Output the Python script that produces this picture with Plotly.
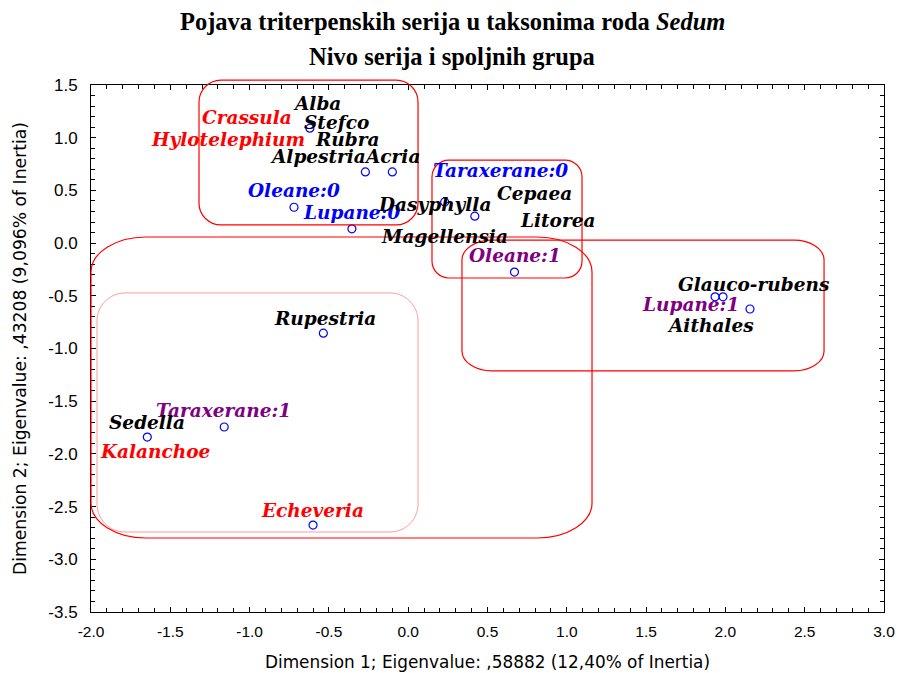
import plotly.graph_objects as go

# correspondence analysis coordinates
point_x = [-0.62, -0.27, -0.10, -0.72, -0.355, 0.23, 0.42, 0.67, 1.935, 1.985, 2.155, -0.535, -1.16, -1.645, -0.60]
point_y = [1.09, 0.675, 0.675, 0.34, 0.135, 0.39, 0.255, -0.275, -0.51, -0.51, -0.625, -0.855, -1.745, -1.84, -2.675]

# labels: text, point index, kind
label_text = ["Alba", "Crassula", "Stefco", "Hylotelephium", "Rubra", "Alpestria", "Acria",
              "Oleane:0", "Lupane:0", "Dasyphylla", "Taraxerane:0", "Magellensia",
              "Cepaea", "Litorea", "Oleane:1", "Glauco-rubens", "Lupane:1", "Aithales",
              "Rupestria", "Taraxerane:1", "Sedella", "Kalanchoe", "Echeveria"]
label_point = [0, 0, 0, 0, 0, 1, 2, 3, 4, 5, 5, 5, 6, 6, 7, 9, 8, 10, 11, 12, 13, 13, 14]
label_kind = ["serija", "rod", "serija", "rod", "serija", "serija", "serija",
              "marker0", "marker0", "serija", "marker0", "serija",
              "serija", "serija", "marker1", "serija", "marker1", "serija",
              "serija", "marker1", "serija", "rod", "rod"]

# groups drawn as rounded boxes: x0, x1, y0, y1
box_x0 = [-1.319, 0.150, -2.0, 0.339, -1.962]
box_x1 = [0.062, 1.096, 1.159, 2.622, 0.062]
box_y0 = [0.172, -0.331, -2.798, -1.213, -2.741]
box_y1 = [1.547, 0.788, 0.058, 0.029, -0.473]

x_ticks = [-2.0, -1.5, -1.0, -0.5, 0.0, 0.5, 1.0, 1.5, 2.0, 2.5, 3.0]
x_tick_labels = ["-2.0", "-1.5", "-1.0", "-0.5", "0.0", "0.5", "1.0", "1.5", "2.0", "2.5", "3.0"]
y_ticks = [-3.5, -3.0, -2.5, -2.0, -1.5, -1.0, -0.5, 0.0, 0.5, 1.0, 1.5]
y_tick_labels = ["-3.5", "-3.0", "-2.5", "-2.0", "-1.5", "-1.0", "-0.5", "0.0", "0.5", "1.0", "1.5"]

# label offsets in pixels (dx right, dy down)
label_dx = [7, -63, 27, -82, 38, -47, 0, 0, 0, -10, 56, 0, 60, 83, 1, 31, -25, -39, 2, -1, 0, 8, -1]
label_dy = [-25, -11, -6, 11, 11, -15, -15, -17, -16, 3, -31, 35, -23, 4, -17, -12, 8, 17, -15, -17, -15, 14, -15]

kind_color = {"serija": "black", "rod": "#ff0000", "marker0": "#0000ff", "marker1": "#800080"}
box_rx = [22, 17, 55, 30, 28]
box_ry = [22, 17, 35, 20, 28]
box_color = ["#ff0000", "#ff0000", "#ff0000", "#ff0000", "#ff9a9a"]

XMIN, XMAX, YMIN, YMAX = -2.0, 3.0, -3.5, 1.5
W, H = 904, 673
PW, PH = 793, 527
# page body adds 8px, so margins are trimmed by that much
L, T = 83, 77
R, B = W - L - PW, H - T - PH


def rounded_box(x0, x1, y0, y1, rx, ry):
    # paper coords so the box may run past the axes
    px0 = (x0 - XMIN) / (XMAX - XMIN)
    px1 = (x1 - XMIN) / (XMAX - XMIN)
    py0 = (y0 - YMIN) / (YMAX - YMIN)
    py1 = (y1 - YMIN) / (YMAX - YMIN)
    a = rx / PW
    b = ry / PH
    k = 0.5523
    p = f"M {px0 + a},{py1} L {px1 - a},{py1} "
    p += f"C {px1 - a + k * a},{py1} {px1},{py1 - b + k * b} {px1},{py1 - b} "
    p += f"L {px1},{py0 + b} "
    p += f"C {px1},{py0 + b - k * b} {px1 - a + k * a},{py0} {px1 - a},{py0} "
    p += f"L {px0 + a},{py0} "
    p += f"C {px0 + a - k * a},{py0} {px0},{py0 + b - k * b} {px0},{py0 + b} "
    p += f"L {px0},{py1 - b} "
    p += f"C {px0},{py1 - b + k * b} {px0 + a - k * a},{py1} {px0 + a},{py1} Z"
    return p


fig = go.Figure()
fig.add_trace(go.Scatter(x=point_x, y=point_y, mode="markers",
                         marker=dict(symbol="circle-open", size=8, color="#0000ff", line=dict(width=1.2)),
                         hoverinfo="skip", showlegend=False, cliponaxis=False))

for i in range(len(box_x0)):
    fig.add_shape(type="path", xref="paper", yref="paper",
                  path=rounded_box(box_x0[i], box_x1[i], box_y0[i], box_y1[i], box_rx[i], box_ry[i]),
                  line=dict(color=box_color[i], width=1.2 if i < 4 else 1))

for t, pi, kd, dx, dy in zip(label_text, label_point, label_kind, label_dx, label_dy):
    fig.add_annotation(x=point_x[pi], y=point_y[pi], xref="x", yref="y", text=t, showarrow=False,
                       xshift=dx, yshift=-dy, xanchor="center", yanchor="middle",
                       font=dict(family="DejaVu Serif", size=18.5, color=kind_color[kd], weight="bold", style="italic"))

title_font = dict(family="Liberation Serif", size=24.5, color="black", weight="bold")
title_x = (452 - 91) / PW
fig.add_annotation(x=title_x, y=(612 - 22) / PH, xref="paper", yref="paper", showarrow=False,
                   xanchor="center", yanchor="middle",
                   text="Pojava triterpenskih serija u taksonima roda <i>Sedum</i>", font=title_font)
fig.add_annotation(x=title_x, y=(612 - 57) / PH, xref="paper", yref="paper", showarrow=False,
                   xanchor="center", yanchor="middle",
                   text="Nivo serija i spoljnih grupa", font=title_font)

axis_common = dict(showgrid=False, zeroline=False, showline=True, linecolor="black", linewidth=1,
                   mirror="ticks", ticks="inside", ticklen=5, tickcolor="black",
                   minor=dict(dtick=0.1, ticks="inside", ticklen=4, tickcolor="black"))
fig.update_xaxes(range=[XMIN, XMAX], **axis_common, tickvals=x_ticks, ticktext=x_tick_labels,
                 tickfont=dict(family="Liberation Sans", size=15.5, color="black"), ticklabelstandoff=5,
                 title=dict(text="Dimension 1; Eigenvalue: ,58882 (12,40% of Inertia)",
                            font=dict(family="DejaVu Sans", size=16.9, color="black"), standoff=17))
fig.update_yaxes(range=[YMIN, YMAX], **axis_common, tickvals=y_ticks, ticktext=y_tick_labels,
                 tickfont=dict(family="Liberation Sans", size=17, color="black"), ticklabelstandoff=9,
                 title=dict(text="Dimension 2; Eigenvalue: ,43208 (9,096% of Inertia)",
                            font=dict(family="DejaVu Sans", size=17.2, color="black"), standoff=17))

fig.update_layout(width=W, height=H, margin=dict(l=L, r=R, t=T, b=B, autoexpand=False),
                  plot_bgcolor="white", paper_bgcolor="white")

fig.write_html("out.html")
